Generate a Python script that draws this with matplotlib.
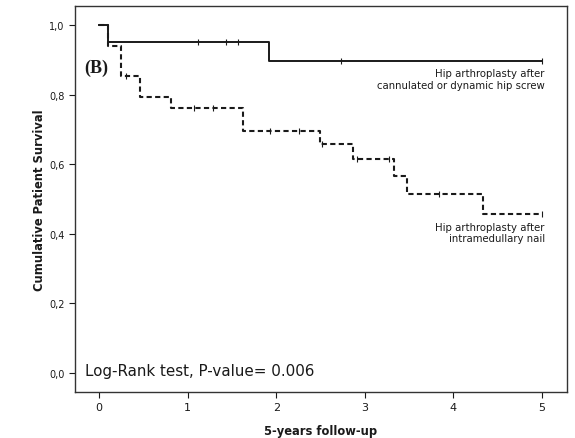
import numpy as np
import matplotlib
matplotlib.use('Agg')
import matplotlib.pyplot as plt

# Kaplan-Meier steps (years, cumulative survival)
screw_t = [0.0, 0.105, 1.92, 5.0]
screw_s = [1.0, 0.952, 0.896, 0.896]
screw_cens = [1.12, 1.43, 1.57, 2.73, 5.0]

nail_t = [0.0, 0.105, 0.25, 0.46, 0.81, 1.63, 2.49, 2.87, 3.33, 3.48, 4.33, 5.0]
nail_s = [1.0, 0.94, 0.854, 0.792, 0.762, 0.694, 0.658, 0.616, 0.565, 0.514, 0.456, 0.456]
nail_cens = [0.31, 1.07, 1.29, 1.93, 2.26, 2.52, 2.91, 3.27, 3.84, 5.0]

xticks = [0, 1, 2, 3, 4, 5]
yticks = [0.0, 0.2, 0.4, 0.6, 0.8, 1.0]
ytick_labels = ['0,0', '0,2', '0,4', '0,6', '0,8', '1,0']

col = '#1a1a1a'


def step_value(t, times, surv):
    i = np.searchsorted(times, t, side='right') - 1
    return np.array(surv)[i]


fig = plt.figure(figsize=(5.75, 4.39), dpi=100)
ax = fig.add_axes([0.1304, 0.1048, 0.8556, 0.879])

ax.step(screw_t, screw_s, where='post', color=col, lw=1.4)
ax.plot(screw_cens, step_value(screw_cens, screw_t, screw_s), ls='none',
        marker='|', ms=5, mew=0.8, color=col)

ax.step(nail_t, nail_s, where='post', color=col, lw=1.5, dashes=(2.5, 1.6))
ax.plot(nail_cens, step_value(nail_cens, nail_t, nail_s), ls='none',
        marker='|', ms=5, mew=0.8, color=col)

ax.text(5.03, 0.862, 'Hip arthroplasty after', ha='right', va='center', fontsize=7.3, color=col)
ax.text(5.03, 0.828, 'cannulated or dynamic hip screw', ha='right', va='center', fontsize=7.3, color=col)
ax.text(5.03, 0.42, 'Hip arthroplasty after', ha='right', va='center', fontsize=7.3, color=col)
ax.text(5.03, 0.386, 'intramedullary nail', ha='right', va='center', fontsize=7.3, color=col)

ax.text(-0.03, 0.879, '(B)', ha='center', va='center', fontsize=13, fontweight='bold',
        family='Liberation Serif', color=col)
ax.text(-0.158, 0.005, 'Log-Rank test, P-value= 0.006', ha='left', va='center',
        fontsize=10.9, color=col)

ax.set_xlim(-0.27, 5.28)
ax.set_ylim(-0.056, 1.055)
ax.set_xticks(xticks)
ax.set_xticklabels([str(x) for x in xticks], fontsize=8)
ax.set_yticks(yticks)
ax.set_yticklabels(ytick_labels, fontsize=7)
ax.tick_params(direction='out', length=4, width=0.8, colors=col)
for s in ax.spines.values():
    s.set_linewidth(1.0)
    s.set_color('#333333')

ax.set_xlabel('5-years follow-up', fontsize=8.3, fontweight='bold', color=col, labelpad=8)
ax.set_ylabel('Cumulative Patient Survival', fontsize=8.3, fontweight='bold', color=col, labelpad=2)

fig.savefig('out.png', dpi=100)
